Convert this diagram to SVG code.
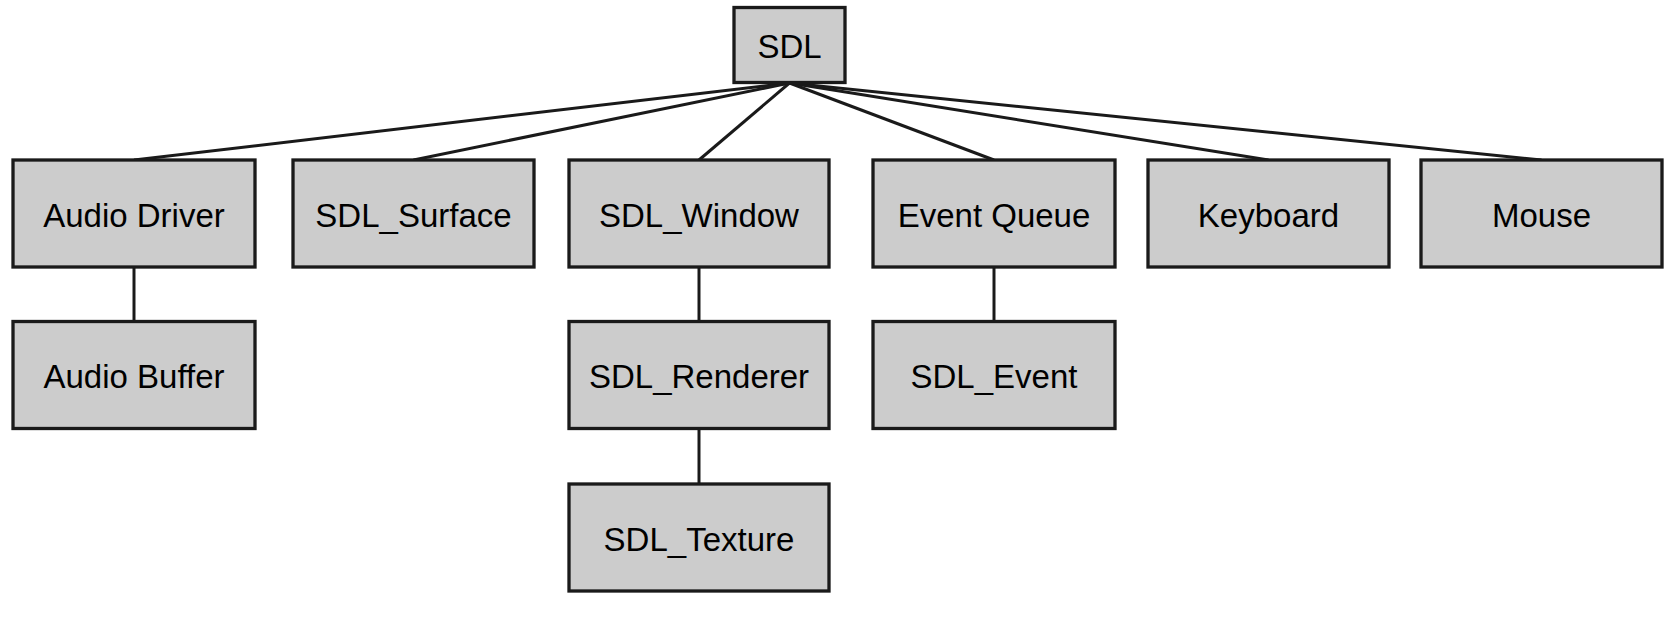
<svg xmlns="http://www.w3.org/2000/svg" width="1674" height="624" viewBox="0 0 1674 624">
<style>
.n rect{fill:#cccccc;stroke:#1a1a1a;stroke-width:3.3}
.n text{font-family:"Liberation Sans",Arial,sans-serif;font-size:33px;fill:#000;text-anchor:middle}
#edges line{stroke:#1a1a1a;stroke-width:3}
</style>
<rect width="1674" height="624" fill="#ffffff"/>
<g id="edges">
<line x1="789.5" y1="83" x2="134" y2="160"/>
<line x1="789.5" y1="83" x2="413.5" y2="160"/>
<line x1="789.5" y1="83" x2="699" y2="160"/>
<line x1="789.5" y1="83" x2="994" y2="160"/>
<line x1="789.5" y1="83" x2="1268.5" y2="160"/>
<line x1="789.5" y1="83" x2="1541.5" y2="160"/>
<line x1="134" y1="267" x2="134" y2="321.5"/>
<line x1="699" y1="267" x2="699" y2="321.5"/>
<line x1="699" y1="428.5" x2="699" y2="484"/>
<line x1="994" y1="267" x2="994" y2="321.5"/>
</g>
<g id="sdl" class="n"><rect x="734" y="7.5" width="111" height="75"/><text x="789.5" y="57.5">SDL</text></g>
<g id="audio_driver" class="n"><rect x="13" y="160" width="242" height="107"/><text x="134" y="226.5">Audio Driver</text></g>
<g id="sdl_surface" class="n"><rect x="293" y="160" width="241" height="107"/><text x="413.5" y="226.5">SDL_Surface</text></g>
<g id="sdl_window" class="n"><rect x="569" y="160" width="260" height="107"/><text x="699" y="226.5">SDL_Window</text></g>
<g id="event_queue" class="n"><rect x="873" y="160" width="242" height="107"/><text x="994" y="226.5">Event Queue</text></g>
<g id="keyboard" class="n"><rect x="1148" y="160" width="241" height="107"/><text x="1268.5" y="226.5">Keyboard</text></g>
<g id="mouse" class="n"><rect x="1421" y="160" width="241" height="107"/><text x="1541.5" y="226.5">Mouse</text></g>
<g id="audio_buffer" class="n"><rect x="13" y="321.5" width="242" height="107"/><text x="134" y="388">Audio Buffer</text></g>
<g id="sdl_renderer" class="n"><rect x="569" y="321.5" width="260" height="107"/><text x="699" y="388">SDL_Renderer</text></g>
<g id="sdl_event" class="n"><rect x="873" y="321.5" width="242" height="107"/><text x="994" y="388">SDL_Event</text></g>
<g id="sdl_texture" class="n"><rect x="569" y="484" width="260" height="107"/><text x="699" y="550.5">SDL_Texture</text></g>
</svg>
